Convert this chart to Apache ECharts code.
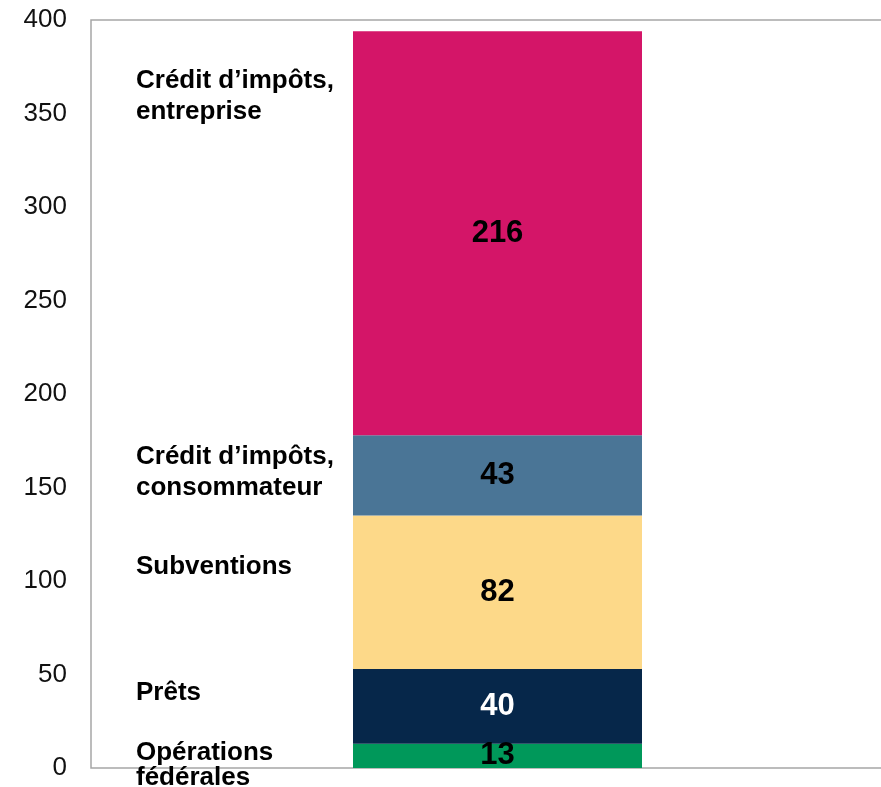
<!DOCTYPE html>
<html>
<head>
<meta charset="utf-8">
<script src="https://cdn.jsdelivr.net/npm/echarts@6/dist/echarts.min.js"></script>
<style>
  html, body { margin: 0; padding: 0; background: #fff; }
  #chart { width: 881px; height: 787px; }
</style>
</head>
<body>
<div id="chart"></div>
<script>
// Segments, bottom to top
const segmentNames = ['Opérations\nfédérales', 'Prêts', 'Subventions', 'Crédit d’impôts,\nconsommateur', 'Crédit d’impôts,\nentreprise'];
const segmentValues = [13, 40, 82, 43, 216];
const segmentColors = ['#00985A', '#06274A', '#FDD989', '#4A7596', '#D41568'];
const valueLabelColors = ['#000', '#fff', '#000', '#000', '#000'];
// vertical anchor (in axis units) of each side annotation
const annotationY = [1.6, 40, 107.5, 158.3, 359];
const annotationLineHeight = [25, 31, 31, 31, 31];

const yMin = 0, yMax = 400, yStep = 50;
const FONT = "'Liberation Sans', Arial, Helvetica, sans-serif";

const chart = echarts.init(document.getElementById('chart'), null, { renderer: 'canvas' });

const series = segmentValues.map((v, i) => ({
  name: segmentNames[i],
  type: 'bar',
  stack: 'total',
  barWidth: 289,
  data: [v],
  itemStyle: { color: segmentColors[i] },
  label: {
    show: true,
    position: 'inside',
    formatter: '{c}',
    color: valueLabelColors[i],
    fontFamily: FONT,
    fontWeight: 'bold',
    fontSize: 31
  },
  emphasis: { disabled: true }
}));

chart.setOption({
  animation: false,
  backgroundColor: '#fff',
  // plot frame runs past the right edge of the page
  grid: {
    left: 91, top: 20, right: -23, bottom: 19,
    outerBoundsMode: 'none',
    containLabel: false,
    show: true, borderColor: '#a6a6a6', borderWidth: 1.5, backgroundColor: 'transparent'
  },
  xAxis: {
    type: 'category',
    data: [''],
    axisLine: { show: false },
    axisTick: { show: false },
    axisLabel: { show: false }
  },
  yAxis: {
    type: 'value',
    min: yMin, max: yMax, interval: yStep,
    axisLine: { show: false },
    axisTick: { show: false },
    splitLine: { show: false },
    axisLabel: { color: '#111', fontFamily: FONT, fontSize: 26, margin: 24 }
  },
  series: series
});

// Side annotations naming each segment
const graphics = segmentNames.map((name, i) => {
  const lines = name.split('\n').length;
  const lh = annotationLineHeight[i];
  const cy = chart.convertToPixel({ yAxisIndex: 0 }, annotationY[i]);
  return {
    type: 'text',
    left: 136,
    top: cy - (lines * lh) / 2,
    z: 10,
    style: {
      text: name,
      fill: '#000',
      font: 'bold 26px ' + FONT,
      lineHeight: lh
    }
  };
});
chart.setOption({ graphic: graphics });
</script>
</body>
</html>
